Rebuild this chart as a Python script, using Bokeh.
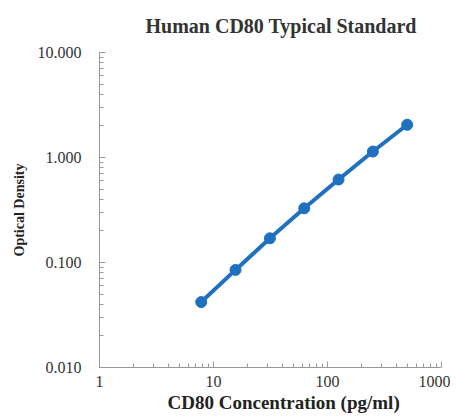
from bokeh.plotting import figure
from bokeh.models import FixedTicker, Range1d, Title
from bokeh.embed import file_html
from bokeh.resources import INLINE

conc = [7.8, 15.6, 31.25, 62.5, 125, 250, 500]
od = [0.042, 0.085, 0.170, 0.328, 0.617, 1.14, 2.05]
x_ticks = [1, 10, 100, 1000]
y_ticks = [0.01, 0.1, 1, 10]
y_labels = {0.01: "0.010", 0.1: "0.100", 1: "1.000", 10: "10.000"}
x_labels = {1: "1", 10: "10", 100: "100", 1000: "1000"}
title_text = "Human CD80 Typical Standard"
x_title = "CD80 Concentration (pg/ml)"
y_title = "Optical Density"

BLUE = "#1f70c1"
FONT = "Liberation Serif"

p = figure(width=450, height=416, x_axis_type="log", y_axis_type="log",
           x_range=Range1d(1, 1000), y_range=Range1d(0.01, 10),
           output_backend="svg", toolbar_location=None,
           min_border_left=99, min_border_right=9, min_border_top=52, min_border_bottom=49)
p.title = None

spacer = Title(text=" ", text_font_size="12px", text_font=FONT, standoff=0)
p.add_layout(spacer, "above")
main_title = Title(text=title_text, text_font=FONT, text_font_size="20px",
                   text_font_style="bold", text_color="#333333", align="left",
                   offset=46, standoff=0)
p.add_layout(main_title, "above")

p.line(conc, od, line_width=4, color=BLUE)
p.scatter(conc, od, size=11, color=BLUE)

p.xgrid.visible = False
p.ygrid.visible = False
p.outline_line_color = None

for ax in (p.xaxis[0], p.yaxis[0]):
    ax.axis_line_color = "#999999"
    ax.major_tick_line_color = "#999999"
    ax.minor_tick_line_color = "#999999"
    ax.major_tick_in = 6
    ax.major_tick_out = 0
    ax.minor_tick_in = 4
    ax.minor_tick_out = 0
    ax.major_label_text_font = FONT
    ax.major_label_text_font_size = "16px"
    ax.major_label_text_color = "#333333"
    ax.axis_label_text_font = FONT
    ax.axis_label_text_font_style = "bold"
    ax.axis_label_text_color = "#222222"

p.yaxis.axis_label_text_font_size = "14px"

p.xaxis.ticker = FixedTicker(ticks=x_ticks, minor_ticks=[m * d for d in [1, 10, 100] for m in range(2, 10)])
p.yaxis.ticker = FixedTicker(ticks=y_ticks, minor_ticks=[m * d for d in [0.01, 0.1, 1] for m in range(2, 10)])
p.xaxis.major_label_standoff = 8
p.yaxis.major_label_standoff = 18
p.yaxis.axis_label_standoff = 8
p.xaxis.major_label_overrides = x_labels
p.yaxis.major_label_overrides = y_labels
p.yaxis.axis_label = y_title

x_label = Title(text=x_title, text_font=FONT, text_font_size="19px",
                text_font_style="bold", text_color="#222222", align="left",
                offset=68, standoff=0)
p.add_layout(x_label, "below")

open("out.html", "w").write(file_html(p, INLINE))
